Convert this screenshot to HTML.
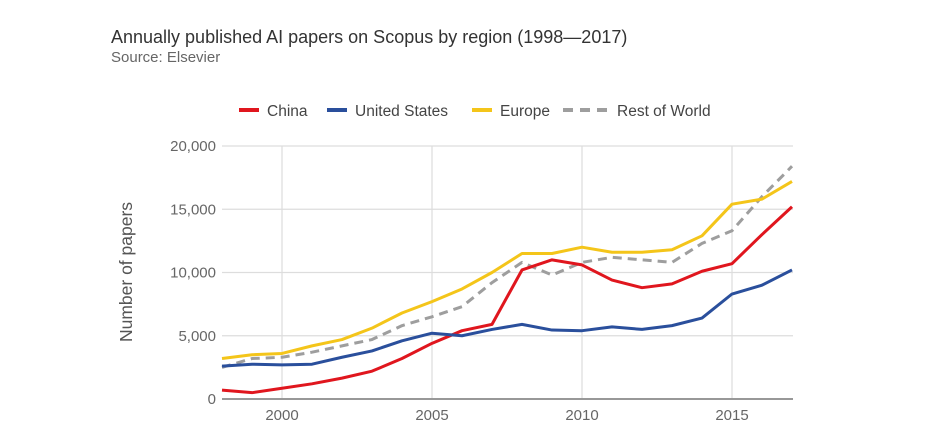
<!DOCTYPE html>
<html><head><meta charset="utf-8"><style>
body{margin:0;background:#fff;font-family:"Liberation Sans",sans-serif;}
</style></head><body>
<svg width="950" height="431" viewBox="0 0 950 431">
<text x="111" y="43" font-size="18" fill="#333">Annually published AI papers on Scopus by region (1998—2017)</text>
<text x="111" y="62" font-size="15" fill="#666">Source: Elsevier</text>
<g id="legend"></g>
<g id="grid"></g>
<g id="series"></g>
<text transform="translate(132,272) rotate(-90)" text-anchor="middle" font-size="17.5" fill="#555">Number of papers</text>
</svg>
<script>
const years=[1998,1999,2000,2001,2002,2003,2004,2005,2006,2007,2008,2009,2010,2011,2012,2013,2014,2015,2016,2017];
const china=[700,500,850,1200,1650,2200,3200,4400,5400,5900,10200,11000,10600,9400,8800,9100,10100,10700,13000,15200];
const us=[2600,2750,2700,2750,3300,3800,4600,5200,5000,5500,5900,5450,5400,5700,5500,5800,6400,8300,9000,10200];
const europe=[3200,3500,3600,4200,4700,5600,6800,7700,8700,10000,11500,11500,12000,11600,11600,11800,12900,15400,15800,17200];
const rest=[2500,3200,3300,3700,4200,4700,5800,6500,7300,9200,10800,9800,10800,11200,11000,10800,12300,13300,16000,18400];
const yTicks=[0,5000,10000,15000,20000];
const xTicks=[2000,2005,2010,2015];
const NS='http://www.w3.org/2000/svg';
const x=v=>222+(v-1998)*30;
const y=v=>399-v*253/20000;
function mk(tag,attrs,parent,text){const e=document.createElementNS(NS,tag);for(const k in attrs)e.setAttribute(k,attrs[k]);if(text!==undefined)e.textContent=text;parent.appendChild(e);return e;}
const grid=document.getElementById('grid');
yTicks.forEach(t=>{
  const l=mk('line',{x1:222,x2:793,y1:y(t),y2:y(t),stroke:t===0?'#777':'#ddd','stroke-width':t===0?1.5:1.2},grid);
  
  
  const tx=mk('text',{x:216,y:y(t)+5,'text-anchor':'end','font-size':15,fill:'#666'},grid,t.toLocaleString('en-US'));
  
  
});
xTicks.forEach(t=>{
  const l=mk('line',{x1:x(t),x2:x(t),y1:146,y2:398,stroke:'#ddd','stroke-width':1.2},grid);
  
  
  const tx=mk('text',{x:x(t),y:420,'text-anchor':'middle','font-size':15,fill:'#666'},grid,String(t));
  
  
});
const defs=[
 {name:'Rest of World',data:rest,color:'#9e9e9e',dash:'9,6',key:'rest-of-world'},
 {name:'China',data:china,color:'#e0161e',dash:'',key:'china'},
 {name:'United States',data:us,color:'#2a4f9c',dash:'',key:'united-states'},
 {name:'Europe',data:europe,color:'#f4c51a',dash:'',key:'europe'}
];
const sg=document.getElementById('series');
defs.forEach(d=>{
  const p=mk('polyline',{points:d.data.map((v,i)=>x(years[i])+','+y(v)).join(' '),fill:'none',stroke:d.color,'stroke-width':3,'stroke-dasharray':d.dash,'stroke-linejoin':'round'},sg);
  
  
});
const lg=document.getElementById('legend');
const legendItems=[['China','#e0161e','',239,20,'china'],['United States','#2a4f9c','',327,20,'united-states'],['Europe','#f4c51a','',472,20,'europe'],['Rest of World','#9e9e9e','10,7',563,44,'rest-of-world']];
legendItems.forEach(it=>{
  const g=mk('g',{},lg);
  
  
  mk('line',{x1:it[3],x2:it[3]+it[4],y1:110,y2:110,stroke:it[1],'stroke-width':4,'stroke-dasharray':it[2]},g);
  mk('text',{x:it[3]+it[4]+(it[2]?10:8),y:116,'font-size':15.5,fill:'#444'},g,it[0]);
});
</script>
</body></html>
